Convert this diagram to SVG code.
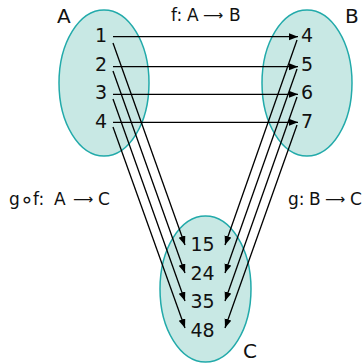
<svg xmlns="http://www.w3.org/2000/svg" width="364" height="363" viewBox="0 0 364 363">
<style>
.set{fill:#c8e8e4;stroke:#22aaaa;stroke-width:1.5}
.num{font-family:"DejaVu Sans",Verdana,sans-serif;font-size:19px;fill:#111}
.lbl{font-family:"DejaVu Sans",Verdana,sans-serif;font-size:20px;fill:#111}
.fn{font-family:"DejaVu Sans",Verdana,sans-serif;font-size:17px;fill:#111}
.ring{font-size:22px}
.arw{font-size:14px}
.ar{stroke:#000;stroke-width:1.3;fill:none;marker-end:url(#ah)}
</style>
<defs>
<marker id="ah" markerUnits="userSpaceOnUse" markerWidth="10" markerHeight="8" refX="9" refY="3.5" orient="auto">
<path d="M0,0 L9,3.5 L0,7 z" fill="#000"/>
</marker>
</defs>
<g id="setA"><ellipse class="set" cx="104" cy="83" rx="45" ry="73"/></g>
<g id="setB"><ellipse class="set" cx="307" cy="83" rx="45" ry="73"/></g>
<g id="setC"><ellipse class="set" cx="205.5" cy="289" rx="45.5" ry="73"/></g>
<g id="connectors">
<line class="ar" x1="113" y1="36.7" x2="298" y2="36.7"/>
<line class="ar" x1="113" y1="66.7" x2="298" y2="66.7"/>
<line class="ar" x1="113" y1="94.3" x2="298" y2="94.3"/>
<line class="ar" x1="113" y1="122.3" x2="298" y2="122.3"/>
<line class="ar" x1="113" y1="43" x2="185" y2="245"/>
<line class="ar" x1="113" y1="71" x2="185" y2="273"/>
<line class="ar" x1="113" y1="99" x2="185" y2="301"/>
<line class="ar" x1="113" y1="127" x2="185" y2="328"/>
<line class="ar" x1="297" y1="40" x2="225" y2="245"/>
<line class="ar" x1="297" y1="69" x2="225" y2="273"/>
<line class="ar" x1="297" y1="97" x2="225" y2="301"/>
<line class="ar" x1="297" y1="125" x2="225" y2="328"/>
</g>
<g id="elemsA" class="num" text-anchor="end">
<text x="107" y="42">1</text>
<text x="107" y="70.5">2</text>
<text x="107" y="99">3</text>
<text x="107" y="127.5">4</text>
</g>
<g id="elemsB" class="num">
<text x="301" y="42">4</text>
<text x="301" y="70.5">5</text>
<text x="301" y="99">6</text>
<text x="301" y="127.5">7</text>
</g>
<g id="elemsC" class="num" text-anchor="middle">
<text x="202.5" y="251">15</text>
<text x="202.5" y="279.5">24</text>
<text x="202.5" y="308">35</text>
<text x="202.5" y="336.5">48</text>
</g>
<g id="labels">
<text class="lbl" x="57" y="23">A</text>
<text class="lbl" x="345" y="23">B</text>
<text class="lbl" x="243" y="358">C</text>
<text class="fn" y="21"><tspan x="171">f:</tspan><tspan x="187">A</tspan><tspan class="arw" x="203" dy="-1">⟶</tspan><tspan x="229" dy="1">B</tspan></text>
<text class="fn" y="205"><tspan x="9">g</tspan><tspan class="ring" x="20" dy="2">∘</tspan><tspan x="33" dy="-2">f:</tspan><tspan x="54">A</tspan><tspan class="arw" x="73" dy="-1">⟶</tspan><tspan x="98" dy="1">C</tspan></text>
<text class="fn" y="205"><tspan x="288">g:</tspan><tspan x="309">B</tspan><tspan class="arw" x="325" dy="-1">⟶</tspan><tspan x="350" dy="1">C</tspan></text>
</g>
</svg>
